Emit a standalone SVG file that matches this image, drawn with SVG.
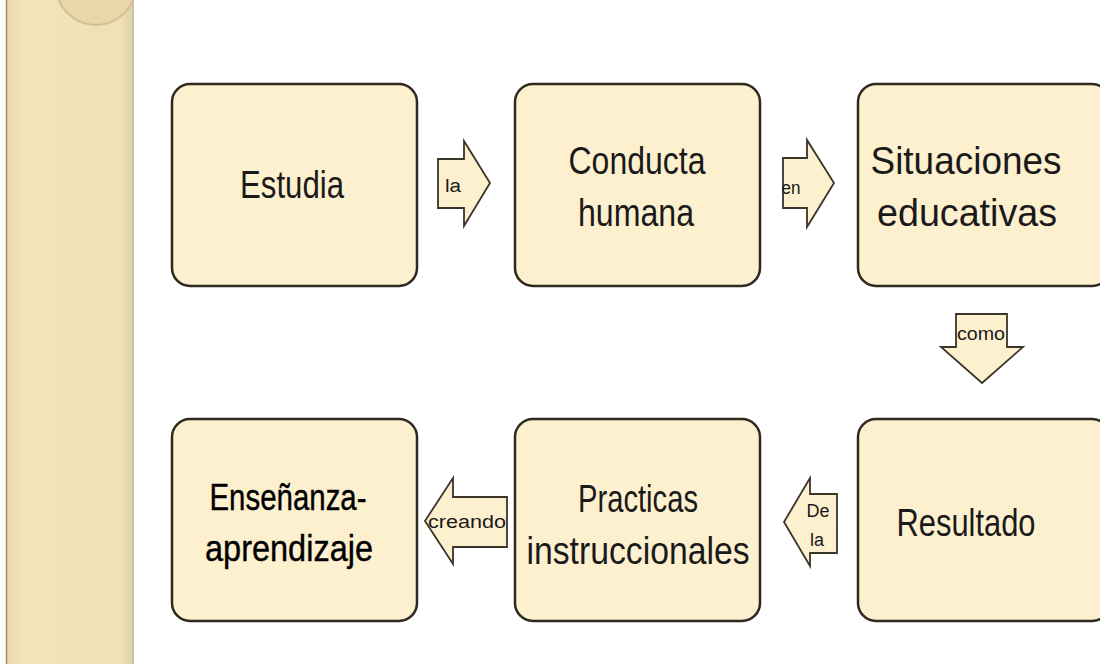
<svg xmlns="http://www.w3.org/2000/svg" width="1100" height="664" viewBox="0 0 1100 664">
<defs>
<style>
.box{fill:#fdf0cf;stroke:#2f2a1f;stroke-width:2.5}
.arr{fill:#fdf0cf;stroke:#3a3528;stroke-width:1.8;stroke-linejoin:miter}
.t{font-family:"Liberation Sans",Arial,sans-serif;font-size:38px;fill:#1a1a1a;text-anchor:middle}
.tb{font-family:"Liberation Sans",Arial,sans-serif;font-size:37px;fill:#000;text-anchor:middle;stroke:#000;stroke-width:0.4}
.s{font-family:"Liberation Sans",Arial,sans-serif;font-size:18px;fill:#1a1a1a;text-anchor:middle}
</style>
<linearGradient id="strip" x1="0" y1="0" x2="1" y2="0">
<stop offset="0" stop-color="#ecdab0"/>
<stop offset="0.15" stop-color="#f3e4bd"/>
<stop offset="0.9" stop-color="#f1e0b6"/>
<stop offset="1" stop-color="#dccfae"/>
</linearGradient>
<clipPath id="sc"><rect x="6" y="0" width="127" height="664"/></clipPath>
</defs>
<rect width="1100" height="664" fill="#ffffff"/>
<g id="strip-bg">
<rect x="6" y="0" width="128" height="664" fill="url(#strip)"/>
<circle cx="96" cy="-15" r="40" fill="#ead7a8" stroke="#d3c096" stroke-width="2" clip-path="url(#sc)"/>
<line x1="6.5" y1="0" x2="6.5" y2="664" stroke="#9a8a68" stroke-width="1.5"/>
<line x1="133" y1="0" x2="133" y2="664" stroke="#cfc3a6" stroke-width="2"/>
</g>
<g id="n1"><rect class="box" x="172" y="84" width="245" height="202" rx="18"/><text class="t" x="292" y="198" textLength="104" lengthAdjust="spacingAndGlyphs">Estudia</text></g>
<g id="n2"><rect class="box" x="515" y="84" width="245" height="202" rx="18"/><text class="t" x="637" y="174" textLength="137" lengthAdjust="spacingAndGlyphs">Conducta</text><text class="t" x="636" y="226" textLength="116" lengthAdjust="spacingAndGlyphs">humana</text></g>
<g id="n3"><rect class="box" x="858" y="84" width="252" height="202" rx="18"/><text class="t" x="966" y="174" textLength="191" lengthAdjust="spacingAndGlyphs">Situaciones</text><text class="t" x="967" y="226" textLength="180" lengthAdjust="spacingAndGlyphs">educativas</text></g>
<g id="n4"><rect class="box" x="858" y="419" width="252" height="202" rx="18"/><text class="t" x="966" y="536" textLength="139" lengthAdjust="spacingAndGlyphs">Resultado</text></g>
<g id="n5"><rect class="box" x="515" y="419" width="245" height="202" rx="18"/><text class="t" x="638" y="512" textLength="120" lengthAdjust="spacingAndGlyphs">Practicas</text><text class="t" x="638" y="564" textLength="223" lengthAdjust="spacingAndGlyphs">instruccionales</text></g>
<g id="n6"><rect class="box" x="172" y="419" width="245" height="202" rx="18"/><text class="tb" x="288" y="510" textLength="157" lengthAdjust="spacingAndGlyphs">Enseñanza-</text><text class="tb" x="289" y="561" textLength="168" lengthAdjust="spacingAndGlyphs">aprendizaje</text></g>
<g id="connectors">
<g id="c1"><polygon class="arr" points="438,159 464,159 464,141 490,183 464,226 464,208 438,208"/><text class="s" x="453" y="192" textLength="16" lengthAdjust="spacingAndGlyphs">la</text></g>
<g id="c2"><polygon class="arr" points="783,158 807,158 807,140 834,183 807,227 807,208 783,208"/><text class="s" x="791" y="194" textLength="19" lengthAdjust="spacingAndGlyphs">en</text></g>
<g id="c3"><polygon class="arr" points="956,314 1007,314 1007,347 1023,347 982,383 941,347 956,347"/><text class="s" x="981" y="340" font-size="16" textLength="48" lengthAdjust="spacingAndGlyphs">como</text></g>
<g id="c4"><polygon class="arr" points="507,497 453,497 453,478 425,521 453,564 453,547 507,547"/><text class="s" x="467" y="528" font-size="16" textLength="78" lengthAdjust="spacingAndGlyphs">creando</text></g>
<g id="c5"><polygon class="arr" points="837,494 810,494 810,478 784,522 810,566 810,553 837,553"/><text class="s" x="818" y="517">De</text><text class="s" x="817" y="546">la</text></g>
</g>
</svg>
